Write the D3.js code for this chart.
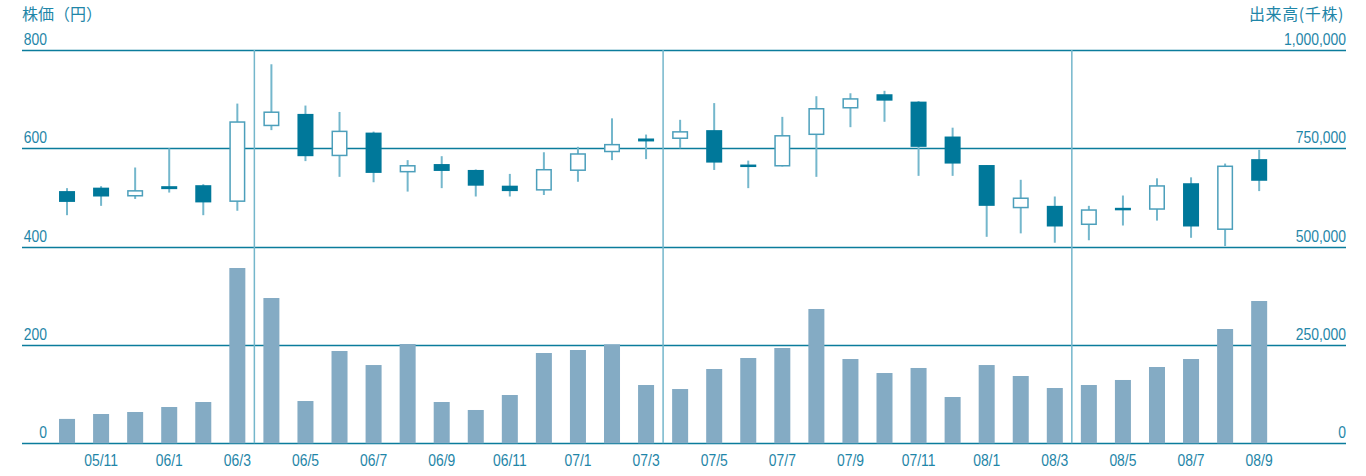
<!DOCTYPE html>
<html>
<head>
<meta charset="utf-8">
<script src="https://cdn.jsdelivr.net/npm/d3@7/dist/d3.min.js"></script>
<style>
  html, body { margin: 0; padding: 0; background: #ffffff; }
  svg { display: block; }
  .num { font-family: 'Liberation Sans', Arial, sans-serif; font-size: 17px; fill: #1f86a8; }
  .cjk { font-family: 'Noto Sans CJK JP', sans-serif; font-size: 16px; fill: #1f86a8; }
</style>
</head>
<body>
<svg id="chart" width="1366" height="476"></svg>
<script>
// Monthly categories, Oct 2005 – Sep 2008
const months = [
  "05/10","05/11","05/12",
  "06/1","06/2","06/3","06/4","06/5","06/6","06/7","06/8","06/9","06/10","06/11","06/12",
  "07/1","07/2","07/3","07/4","07/5","07/6","07/7","07/8","07/9","07/10","07/11","07/12",
  "08/1","08/2","08/3","08/4","08/5","08/6","08/7","08/8","08/9"
];

// Monthly share price (yen)
const openPrice  = [513,520,502, 523,525,491,645,670,584,632,551,568,556,524,514, 554,592,620,619,637,567,563,627,681,710,695,624, 566,478,483,444,479,475,529,434,578];
const highPrice  = [519,523,561, 600,527,691,771,687,674,634,576,584,557,548,592, 603,661,628,658,692,575,664,706,712,717,696,642, 566,536,502,483,504,539,541,569,597];
const lowPrice   = [464,483,497, 510,464,473,637,574,542,531,512,519,502,502,505, 532,576,578,600,556,519,563,542,643,654,544,544, 420,427,408,413,443,453,418,401,513];
const closePrice = [491,502,515, 517,490,655,675,584,636,550,566,554,524,513,558, 590,609,614,635,571,562,627,682,702,697,603,569, 483,500,441,476,474,525,441,565,534];

// Monthly trading volume (thousand shares)
const volume = [62000,74500,79600, 92300,105000,445700,369400,107500,234700,199000,252500,105000,84700,122800,229600,
  237200,251700,148200,138000,188900,216900,242300,341500,214300,178700,191500,117700,
  199000,171100,140600,148200,161000,194000,214300,290600,361800];

// Axis ticks
const priceTicks  = [0, 200, 400, 600, 800];
const volumeTicks = [0, 250000, 500000, 750000, 1000000];
const monthTicks  = ["05/11","06/1","06/3","06/5","06/7","06/9","06/11","07/1","07/3","07/5","07/7","07/9","07/11","08/1","08/3","08/5","08/7","08/9"];
// Fiscal year boundaries (between March and April)
const fiscalBreaks = ["06/4","07/4","08/4"];

const COLORS = {
  text: "#1f86a8",
  grid: "#0b7c9c",
  divider: "#74b6cb",
  wick: "#74b7cc",
  filled: "#00789a",
  hollow: "#4c9fbb",
  bar: "#84abc4"
};

// Numeric labels use a horizontally condensed face
const NARROW = 0.82;
const placeNum = (sel, fx, fy) =>
  sel.attr("class", "num")
     .attr("transform", (d, i) => `translate(${fx(d, i)},${fy(d, i)}) scale(${NARROW},1)`);

const svg = d3.select("#chart");
const plotLeft = 22, plotRight = 1346, plotTop = 50, plotBottom = 443.3;

const x = d3.scaleBand()
  .domain(months)
  .range([50, 1276.2])
  .paddingInner(0.53)
  .paddingOuter(0.265);

const yPrice = d3.scaleLinear().domain([0, 800]).range([plotBottom, plotTop]);
const yVol = d3.scaleLinear().domain([0, 1000000]).range([plotBottom, plotTop]);

const cx = m => x(m) + x.bandwidth() / 2;

// Horizontal grid lines
svg.append("g")
  .selectAll("line")
  .data(priceTicks)
  .join("line")
  .attr("x1", plotLeft).attr("x2", plotRight)
  .attr("y1", d => Math.round(yPrice(d)) + 0.5)
  .attr("y2", d => Math.round(yPrice(d)) + 0.5)
  .attr("stroke", COLORS.grid)
  .attr("stroke-width", 1.3);

// Fiscal year dividers
svg.append("g")
  .selectAll("line")
  .data(fiscalBreaks)
  .join("line")
  .attr("x1", d => x(d) - x.step() * x.paddingInner() / 2)
  .attr("x2", d => x(d) - x.step() * x.paddingInner() / 2)
  .attr("y1", plotTop)
  .attr("y2", plotBottom)
  .attr("stroke", COLORS.divider)
  .attr("stroke-width", 1.5);

// Volume bars
svg.append("g")
  .selectAll("rect")
  .data(months)
  .join("rect")
  .attr("x", d => x(d))
  .attr("width", x.bandwidth())
  .attr("y", (d, i) => yVol(volume[i]))
  .attr("height", (d, i) => yVol(0) - yVol(volume[i]))
  .attr("fill", COLORS.bar);

// Candlesticks
const candles = months.map((m, i) => ({
  m, o: openPrice[i], h: highPrice[i], l: lowPrice[i], c: closePrice[i]
}));

const cg = svg.append("g");
cg.selectAll("line.wick")
  .data(candles)
  .join("line")
  .attr("class", "wick")
  .attr("x1", d => cx(d.m)).attr("x2", d => cx(d.m))
  .attr("y1", d => yPrice(d.h))
  .attr("y2", d => yPrice(d.l))
  .attr("stroke", COLORS.wick)
  .attr("stroke-width", 2);

cg.selectAll("rect.body")
  .data(candles)
  .join("rect")
  .attr("class", "body")
  .each(function(d) {
    const up = d.c >= d.o;
    const y0 = yPrice(Math.max(d.o, d.c));
    const y1 = yPrice(Math.min(d.o, d.c));
    const h = Math.max(y1 - y0, 2.5);
    const sel = d3.select(this);
    if (up) {
      sel.attr("x", x(d.m) + 0.75)
        .attr("width", x.bandwidth() - 1.5)
        .attr("y", y0 + 0.75)
        .attr("height", Math.max(h - 1.5, 1))
        .attr("fill", "#ffffff")
        .attr("stroke", COLORS.hollow)
        .attr("stroke-width", 1.5);
    } else {
      sel.attr("x", x(d.m))
        .attr("width", x.bandwidth())
        .attr("y", y0)
        .attr("height", h)
        .attr("fill", COLORS.filled);
    }
  });

// Left axis labels (price)
svg.append("g")
  .selectAll("text")
  .data(priceTicks)
  .join("text")
  .call(placeNum, () => 47, d => yPrice(d) - 5)
  .attr("text-anchor", "end")
  .text(d => d);

// Right axis labels (volume)
svg.append("g")
  .selectAll("text")
  .data(volumeTicks)
  .join("text")
  .call(placeNum, () => plotRight, d => yVol(d) - 5)
  .attr("text-anchor", "end")
  .text(d => d3.format(",")(d));

// Month labels
svg.append("g")
  .selectAll("text")
  .data(monthTicks)
  .join("text")
  .call(placeNum, d => cx(d), () => 466)
  .attr("text-anchor", "middle")
  .text(d => d);

// Axis titles
svg.append("text").attr("class", "cjk")
  .attr("x", 22).attr("y", 20)
  .text("株価（円）");
svg.append("text").attr("class", "cjk")
  .attr("x", plotRight - 2).attr("y", 20)
  .attr("text-anchor", "end")
  .attr("letter-spacing", 0.6)
  .text("出来高(千株)");
</script>
</body>
</html>
